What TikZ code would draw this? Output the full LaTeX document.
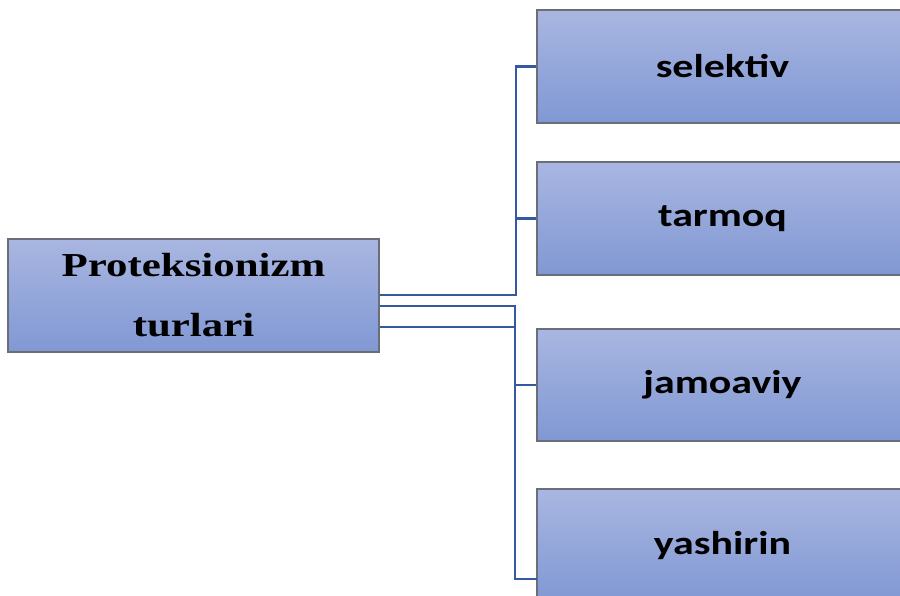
\documentclass[tikz,border=0pt]{standalone}
\usepackage{fontspec}
\setmainfont{Liberation Serif}
\newfontfamily\carl{Carlito}
\definecolor{boxtop}{RGB}{169,182,225}
\definecolor{boxbot}{RGB}{128,152,211}
\definecolor{boxline}{RGB}{105,110,120}
\definecolor{connc}{RGB}{52,88,162}
\begin{document}
\begin{tikzpicture}[x=1pt,y=-1pt,
  box/.style={rectangle,draw=boxline,line width=1.3pt,top color=boxtop,bottom color=boxbot,
    minimum width=371pt,minimum height=113pt,inner sep=0pt,align=center},
  conn/.style={draw=connc,line width=2.2pt},
  rlab/.style={font=\carl\bfseries\fontsize{33}{40}\selectfont},
  llab/.style={font=\bfseries\fontsize{33.5}{60}\selectfont}]
\useasboundingbox (0,0) rectangle (900,596);
\clip (0,0) rectangle (900,596);
\node[box,llab] (L) at (193.5,295.5) {\scalebox{1.28}[1]{Proteksionizm}\\\scalebox{1.28}[1]{turlari}};
\node[box,rlab] (S) at (722.5,66.5) {\scalebox{1.27}[1]{selektiv}};
\node[box,rlab] (T) at (722.5,218.5) {\scalebox{1.27}[1]{tarmoq}};
\node[box,rlab,minimum height=112pt] (J) at (722.5,385) {\scalebox{1.27}[1]{jamoaviy}};
\node[box,rlab] (Y) at (722.5,545.5) {\scalebox{1.27}[1]{yashirin}};
\coordinate (b1) at (516,295);
\coordinate (b2) at (515,306);
\coordinate (b3) at (515,327);
\coordinate (yend) at (537,579);
\draw[conn] (L.east |- b1) -- (b1) |- (S.west);
\draw[conn] (L.east |- b1) -- (b1) |- (T.west);
\draw[conn] (L.east |- b2) -- (b2) |- (J.west);
\draw[conn] (L.east |- b3) -- (b3) |- (yend);
\end{tikzpicture}
\end{document}
